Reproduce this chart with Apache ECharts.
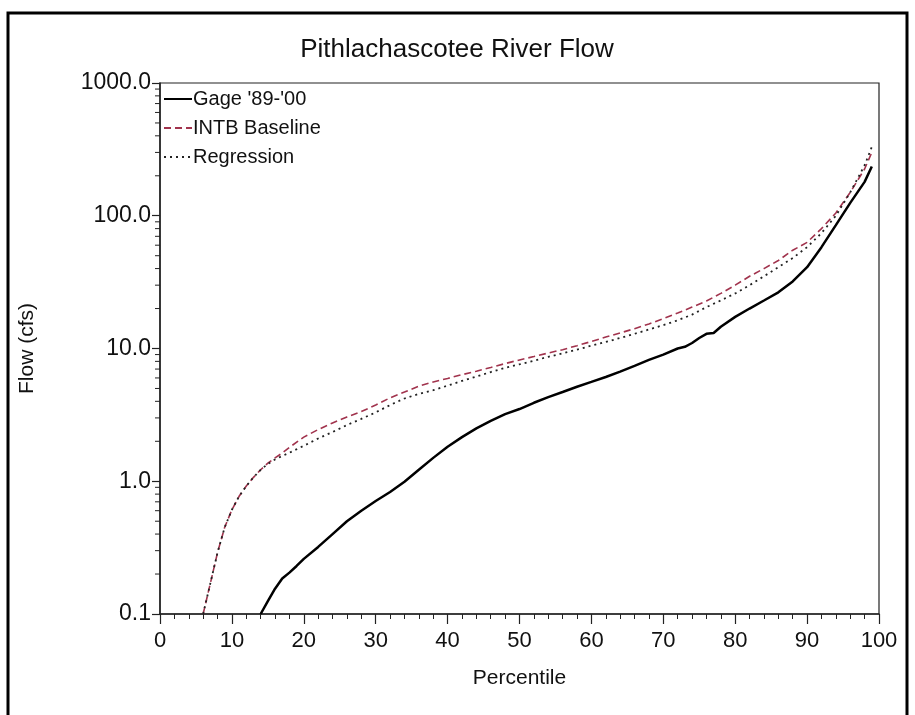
<!DOCTYPE html>
<html>
<head>
<meta charset="utf-8">
<script src="https://cdn.jsdelivr.net/npm/echarts@6/dist/echarts.min.js"></script>
<style>html,body{margin:0;padding:0;background:#fff}#c{width:915px;height:715px}</style>
</head>
<body>
<div id="c"></div>
<script>
// Percentile positions and flows (cfs)
const gageP = [14,15,16,17,18,19,20,22,24,26,28,30,32,34,36,38,40,42,44,46,48,50,52,54,56,58,60,62,64,66,68,70,72,73,74,75,76,77,78,80,82,84,86,88,90,92,94,96,98,99];
const gageQ = [0.10,0.125,0.155,0.185,0.205,0.23,0.26,0.32,0.40,0.50,0.60,0.71,0.83,0.99,1.22,1.50,1.82,2.15,2.50,2.85,3.20,3.50,3.90,4.30,4.70,5.15,5.60,6.10,6.70,7.40,8.20,9.00,10.0,10.3,11.0,12.0,12.9,13.1,14.6,17.3,20,23,26.5,32,41,58,85,125,180,235];

const intbP = [6,7,8,9,10,11,12,13,14,15,16,17,18,20,22,24,26,28,30,32,34,36,38,40,42,44,46,48,50,52,54,56,58,60,62,64,66,68,70,72,74,76,78,80,82,84,86,88,90,92,94,96,98,99];
const intbQ = [0.10,0.17,0.29,0.45,0.61,0.77,0.92,1.07,1.22,1.37,1.50,1.63,1.80,2.15,2.45,2.75,3.05,3.35,3.75,4.25,4.70,5.20,5.60,5.95,6.35,6.75,7.20,7.70,8.20,8.70,9.25,9.80,10.5,11.3,12.2,13.1,14.1,15.3,16.8,18.5,20.5,22.8,26,30,35,40,46,55,63,80,105,150,225,300];

const regP = [6,7,8,9,10,11,12,13,14,15,16,17,18,20,22,24,26,28,30,32,34,36,38,40,42,44,46,48,50,52,54,56,58,60,62,64,66,68,70,72,74,76,78,80,82,84,86,88,90,92,94,96,98,99];
const regQ = [0.10,0.17,0.29,0.45,0.61,0.77,0.92,1.07,1.22,1.35,1.46,1.55,1.64,1.85,2.10,2.35,2.65,2.95,3.30,3.75,4.20,4.55,4.85,5.25,5.70,6.15,6.65,7.15,7.60,8.10,8.65,9.20,9.80,10.5,11.2,12.0,12.9,13.9,15.0,16.3,18.0,20.5,23.0,26,30,35,41,48,58,74,100,150,240,330];

const seriesNames = ["Gage '89-'00", "INTB Baseline", "Regression"];
const xTicks = [0,10,20,30,40,50,60,70,80,90,100];
const yTicks = [0.1,1,10,100,1000];

function pairs(p, q){ return p.map((x,i)=>[x,q[i]]); }
// log minor tick values (2..9 in each decade), axis decoration only
const minorVals = [];
for (let d = 0; d < yTicks.length - 1; d++) {
  for (let k = 2; k <= 9; k++) minorVals.push([0, +(yTicks[d]*k).toPrecision(3)]);
}

const FONT = 'Liberation Sans';
const chart = echarts.init(document.getElementById('c'));
chart.setOption({
  backgroundColor: '#fff',
  animation: false,
  title: {
    text: 'Pithlachascotee River Flow',
    left: 452, top: 32, textAlign: 'center',
    textStyle: {fontFamily: FONT, fontSize: 26, fontWeight: 'normal', color: '#111'}
  },
  legend: {
    data: seriesNames,
    orient: 'vertical',
    left: 158, top: 84,
    itemWidth: 28, itemHeight: 14, itemGap: 9,
    itemStyle: {opacity: 0},
    textStyle: {fontFamily: FONT, fontSize: 20, color: '#111', padding: [0,0,0,-4]}
  },
  grid: {left: 160, right: 36, top: 83, bottom: 101, show: true, borderColor: '#222', borderWidth: 1.2, backgroundColor: '#fff'},
  xAxis: {
    type: 'value', min: 0, max: 100, interval: 10,
    name: 'Percentile', nameLocation: 'middle', nameGap: 54,
    nameTextStyle: {fontFamily: FONT, fontSize: 21, color: '#111'},
    axisLine: {lineStyle: {color: '#222', width: 1.5}},
    axisTick: {length: 10, lineStyle: {color: '#222', width: 1.2}},
    minorTick: {show: true, splitNumber: 5, length: 5, lineStyle: {color: '#222', width: 1}},
    splitLine: {show: false},
    axisLabel: {fontFamily: FONT, fontSize: 22, color: '#111', margin: 16}
  },
  yAxis: {
    type: 'log', logBase: 10, min: 0.1, max: 1000,
    name: 'Flow (cfs)', nameLocation: 'middle', nameGap: 122,
    nameTextStyle: {fontFamily: FONT, fontSize: 21, color: '#111'},
    axisLine: {show: true, lineStyle: {color: '#222', width: 1.5}},
    axisTick: {show: true, length: 8, lineStyle: {color: '#222', width: 1.2}},
    splitLine: {show: false},
    axisLabel: {fontFamily: FONT, fontSize: 23, color: '#111', margin: 9,
      formatter: v => Number(v).toFixed(1)}
  },
  graphic: [{
    type: 'rect', shape: {x: 8, y: 13, width: 899, height: 730},
    style: {fill: 'none', stroke: '#000', lineWidth: 3}, silent: true, z: 100
  }],
  series: [
    {name: seriesNames[0], type: 'line', data: pairs(gageP, gageQ), symbol: 'none',
      lineStyle: {color: '#000', width: 2.5}, itemStyle: {color: '#000'}, z: 5},
    {name: seriesNames[1], type: 'line', data: pairs(intbP, intbQ), symbol: 'none',
      lineStyle: {color: '#a1334d', width: 1.6, type: [7, 4]}, itemStyle: {color: '#a1334d'}, z: 3},
    {name: seriesNames[2], type: 'line', data: pairs(regP, regQ), symbol: 'none',
      lineStyle: {color: '#222', width: 1.8, type: [2, 4]}, itemStyle: {color: '#222'}, z: 4},
    {type: 'custom', name: 'minor', data: minorVals, clip: false, silent: true,
      encode: {x: 0, y: 1},
      renderItem: (params, api) => {
        const p = api.coord([api.value(0), api.value(1)]);
        return {type: 'line', shape: {x1: p[0] - 5, y1: p[1], x2: p[0], y2: p[1]},
          style: {stroke: '#222', lineWidth: 1}};
      }}
  ]
});
</script>
</body>
</html>
